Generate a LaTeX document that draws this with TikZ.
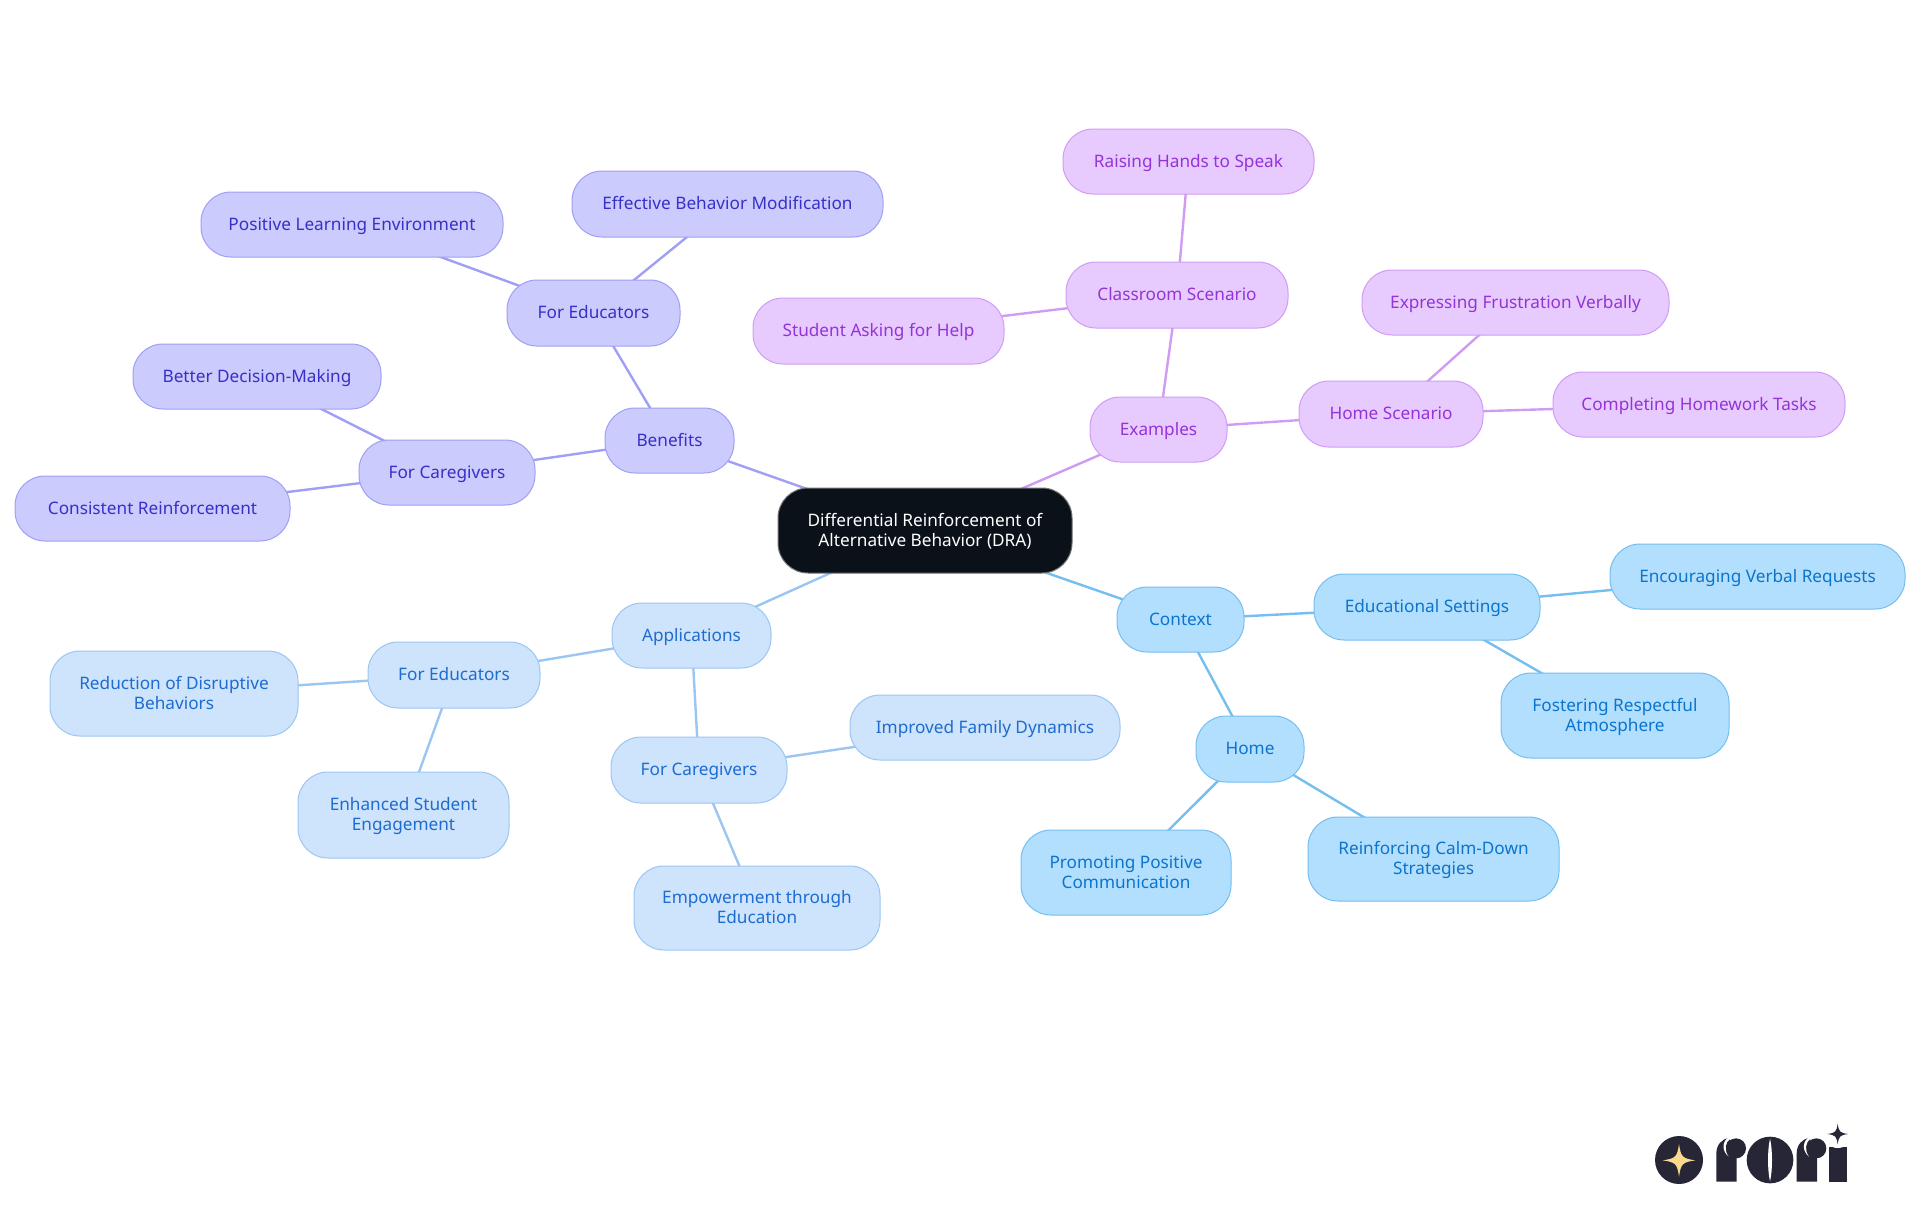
\documentclass[tikz,border=0pt]{standalone}
\usepackage{fontspec}
\setmainfont{Noto Sans}
\usetikzlibrary{backgrounds}
\definecolor{pfill}{HTML}{CBCBFE}\definecolor{pline}{HTML}{9F9FF5}\definecolor{ptext}{HTML}{3730C8}
\definecolor{mfill}{HTML}{E8CBFE}\definecolor{mline}{HTML}{D09CF3}\definecolor{mtext}{HTML}{9333D8}
\definecolor{bfill}{HTML}{CEE3FC}\definecolor{bline}{HTML}{9CC6F2}\definecolor{btext}{HTML}{1E6CD0}
\definecolor{sfill}{HTML}{B3DFFE}\definecolor{sline}{HTML}{75BEF0}\definecolor{stext}{HTML}{0B74CC}
\definecolor{rootc}{HTML}{0B1119}\definecolor{logoc}{HTML}{272636}\definecolor{goldc}{HTML}{FBD98C}
\tikzset{
  mm/.style={rounded corners=15pt,line width=.5pt,inner sep=0pt,align=center,
    font=\fontsize{8.6}{10}\selectfont},
  purp/.style={mm,draw=pline,fill=pfill,text=ptext},
  mauve/.style={mm,draw=mline,fill=mfill,text=mtext},
  blue1/.style={mm,draw=bline,fill=bfill,text=btext},
  sky/.style={mm,draw=sline,fill=sfill,text=stext},
  rootn/.style={mm,draw=black!55,fill=rootc,text=white},
  edgep/.style={draw=pline,line width=1.2pt},
  edgem/.style={draw=mline,line width=1.2pt},
  edgeb/.style={draw=bline,line width=1.2pt},
  edges/.style={draw=sline,line width=1.2pt},
}
% name, x1, x2, y1, y2, style, text
\newcommand\mapnode[7]{%
  \pgfmathsetmacro\nw{(#3-#2)*0.5}\pgfmathsetmacro\nh{(#5-#4)*0.5}%
  \node[#6,minimum width=\nw pt,minimum height=\nh pt] (#1) at ({(#2+#3)/2},{(#4+#5)/2}) {\rule{0pt}{8pt}#7\rule[-2.5pt]{0pt}{2.5pt}};}
\newcommand\sparkle[4]{%
  \begin{scope}[shift={(#1,#2)},scale=#3]
  \fill[#4] (1,0) .. controls (.2,.12) and (.12,.2) .. (0,1) .. controls (-.12,.2) and (-.2,.12) .. (-1,0)
    .. controls (-.2,-.12) and (-.12,-.2) .. (0,-1) .. controls (.12,-.2) and (.2,-.12) .. (1,0) -- cycle;
  \end{scope}}
\newcommand\logor[1]{%
  \begin{scope}[shift={(#1,0)}]
  \fill[logoc] (349,275) -- (349,190) .. controls (349,165) and (365,146) .. (388,144) -- (400,180) -- (410,205) -- (410,275) -- cycle;
  \fill[logoc] (408,175) circle (30);
  \fill[white] (388,141) .. controls (366,152) and (364,182) .. (386,200) .. controls (372,182) and (374,156) .. (392,145) -- cycle;
  \end{scope}}
\begin{document}
\begin{tikzpicture}[x=0.5pt,y=-0.5pt]
\useasboundingbox (0,0) rectangle (1920,1215);
\mapnode{root}{778}{1072}{488}{573}{rootn}{Differential Reinforcement of\\Alternative Behavior (DRA)}
\mapnode{ben}{605}{734}{408}{473}{purp}{Benefits}
\mapnode{bedu}{507}{680}{280}{346}{purp}{For Educators}
\mapnode{bmod}{572}{883}{171}{237}{purp}{Effective Behavior Modification}
\mapnode{benv}{201}{503}{192}{257}{purp}{Positive Learning Environment}
\mapnode{bcar}{359}{535}{440}{505}{purp}{For Caregivers}
\mapnode{bdec}{133}{381}{344}{409}{purp}{Better Decision-Making}
\mapnode{bcon}{15}{290}{476}{541}{purp}{Consistent Reinforcement}
\mapnode{ex}{1090}{1227}{397}{462}{mauve}{Examples}
\mapnode{ecla}{1066}{1288}{262}{328}{mauve}{Classroom Scenario}
\mapnode{erai}{1063}{1314}{129}{194}{mauve}{Raising Hands to Speak}
\mapnode{estu}{753}{1004}{298}{364}{mauve}{Student Asking for Help}
\mapnode{ehom}{1299}{1483}{381}{447}{mauve}{Home Scenario}
\mapnode{eexp}{1362}{1669}{270}{335}{mauve}{Expressing Frustration Verbally}
\mapnode{ecom}{1553}{1845}{372}{437}{mauve}{Completing Homework Tasks}
\mapnode{ctx}{1117}{1244}{587}{652}{sky}{Context}
\mapnode{cedu}{1314}{1540}{574}{640}{sky}{Educational Settings}
\mapnode{cenc}{1610}{1905}{544}{609}{sky}{Encouraging Verbal Requests}
\mapnode{cfos}{1501}{1729}{673}{758}{sky}{Fostering Respectful\\Atmosphere}
\mapnode{chom}{1196}{1304}{716}{782}{sky}{Home}
\mapnode{cpro}{1021}{1231}{830}{915}{sky}{Promoting Positive\\Communication}
\mapnode{crei}{1308}{1559}{817}{901}{sky}{Reinforcing Calm-Down\\Strategies}
\mapnode{app}{612}{771}{603}{668}{blue1}{Applications}
\mapnode{aedu}{368}{540}{642}{708}{blue1}{For Educators}
\mapnode{acar}{611}{787}{737}{803}{blue1}{For Caregivers}
\mapnode{aimp}{850}{1120}{695}{760}{blue1}{Improved Family Dynamics}
\mapnode{aemp}{634}{880}{866}{950}{blue1}{Empowerment through\\Education}
\mapnode{ared}{50}{298}{651}{736}{blue1}{Reduction of Disruptive\\Behaviors}
\mapnode{aenh}{298}{509}{772}{858}{blue1}{Enhanced Student\\Engagement}
\begin{pgfonlayer}{background}
\fill[white] (0,0) rectangle (1920,1215);
\foreach \a/\b in {root/ben,ben/bedu,bedu/bmod,bedu/benv,ben/bcar,bcar/bdec,bcar/bcon}
  \draw[edgep] (\a.center) -- (\b.center);
\foreach \a/\b in {root/ex,ex/ecla,ecla/erai,ecla/estu,ex/ehom,ehom/eexp,ehom/ecom}
  \draw[edgem] (\a.center) -- (\b.center);
\foreach \a/\b in {root/ctx,ctx/cedu,cedu/cenc,cedu/cfos,ctx/chom,chom/cpro,chom/crei}
  \draw[edges] (\a.center) -- (\b.center);
\foreach \a/\b in {root/app,app/aedu,aedu/ared,aedu/aenh,app/acar,acar/aimp,acar/aemp}
  \draw[edgeb] (\a.center) -- (\b.center);
\end{pgfonlayer}
% logo
\begin{scope}[shift={(1600,1090)},x=0.16667pt,y=-0.16667pt]
  \fill[logoc] (237,210) circle (72);
  \sparkle{237}{211}{49}{goldc}
  \logor{0}
  \logor{241}
  \fill[logoc] (510,210) circle (70);
  \fill[white] (510,146) .. controls (502,180) and (502,240) .. (510,274) .. controls (518,240) and (518,180) .. (510,146) -- cycle;
  \fill[logoc] (687,170) rectangle (740,275);
  \fill[white] (713,132) circle (42);
  \sparkle{713}{132}{31}{logoc}
\end{scope}
\end{tikzpicture}
\end{document}
